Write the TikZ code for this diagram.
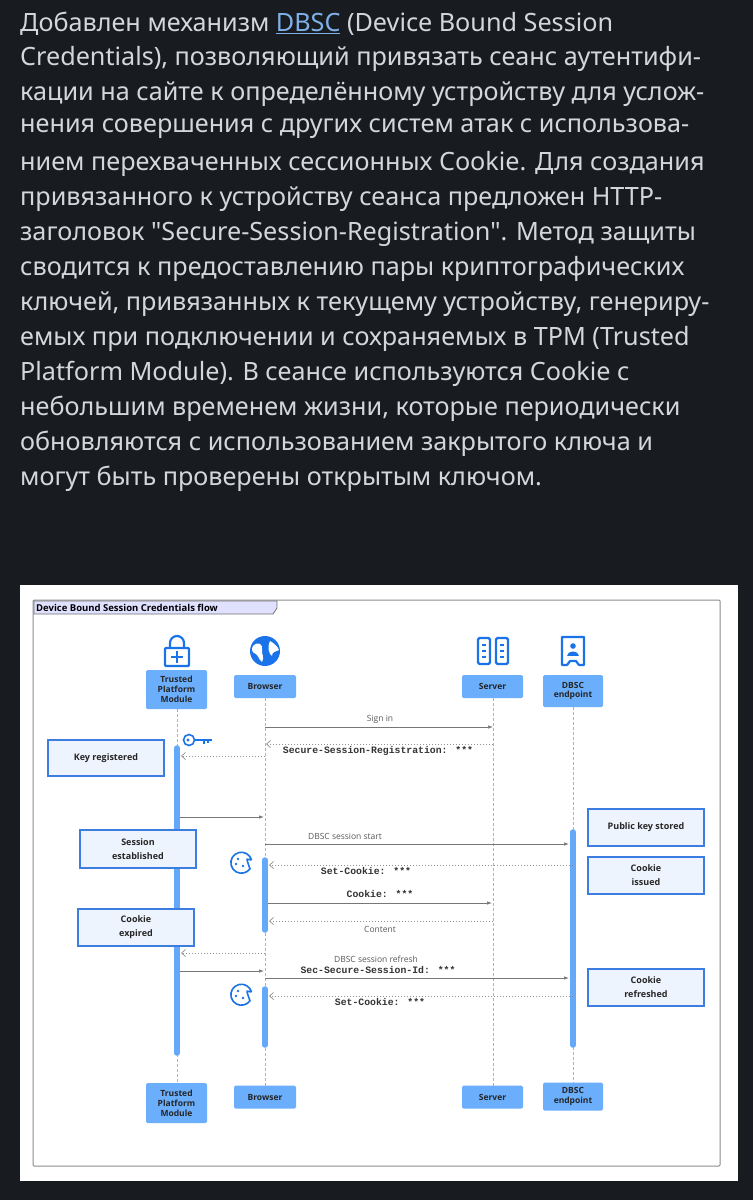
\documentclass[tikz,border=0pt]{standalone}
\usepackage{fontspec}
\setmainfont{Noto Sans}[Ligatures=TeXOff]
\newfontfamily\diag{Open Sans}
\newfontfamily\monof{Liberation Mono}
\usetikzlibrary{arrows.meta}
\definecolor{bgdark}{HTML}{181C20}
\definecolor{txtl}{HTML}{D3D7DB}
\definecolor{linkc}{HTML}{7FB0E8}
\definecolor{hdr}{HTML}{6AAEFC}
\definecolor{icon}{HTML}{1A73E8}
\definecolor{notef}{HTML}{EEF4FD}
\definecolor{noteb}{HTML}{3B7DE0}
\definecolor{msg}{HTML}{777777}
\definecolor{bar}{HTML}{64A8FA}
\tikzset{
  para/.style={anchor=west,text=txtl,font=\fontsize{25.2}{28}\selectfont,inner sep=0pt},
  hbox/.style={fill=hdr,rounded corners=1.5pt,font=\diag\bfseries\fontsize{8.5}{9.8}\selectfont,align=center,inner sep=0pt,text=black!85},
  note/.style={draw=noteb,fill=notef,line width=1.2pt,font=\diag\bfseries\fontsize{9}{14}\selectfont,align=center,text=black!85},
  lab/.style={font=\diag\fontsize{8.5}{9}\selectfont,text=black!65,inner sep=0pt},
  mlab/.style={font=\monof\bfseries\fontsize{9.8}{10}\selectfont,text=black!80,inner sep=0pt},
  sol/.style={draw=msg,line width=0.7pt,-{Latex[length=5pt,width=3.5pt]}},
  ret/.style={draw=msg!80,line width=0.7pt,dash pattern=on 1.5pt off 1.5pt,-{Straight Barb[length=4pt,width=7pt]}},
  life/.style={draw=black!30,line width=0.6pt,dash pattern=on 3pt off 2pt},
  actb/.style={draw=bar,line width=5.5pt,line cap=round},
  ic/.style={draw=icon,line width=2.2pt}
}
\begin{document}
\begin{tikzpicture}[x=1pt,y=-1pt]
\fill[bgdark] (0,0) rectangle (753,1200);
\useasboundingbox (0,0) rectangle (753,1200);
% text
\node[para] (l1) at (20,24) {Добавлен механизм \textcolor{linkc}{\underline{DBSC}} (Device Bound Session};
\node[para] (l2) at (20,59) {Credentials), позволяющий привязать сеанс аутентифи-};
\node[para] (l3) at (20,94) {кации на сайте к определённому устройству для услож-};
\node[para] (l4) at (20,129) {нения совершения с других систем атак с использова-};
\node[para] (l5) at (20,164) {нием перехваченных сессионных Cookie. Для создания};
\node[para] (l6) at (20,199) {привязанного к устройству сеанса предложен HTTP-};
\node[para] (l7) at (20,234) {заголовок "Secure-Session-Registration". Метод защиты};
\node[para] (l8) at (20,269) {сводится к предоставлению пары криптографических};
\node[para] (l9) at (20,304) {ключей, привязанных к текущему устройству, генериру-};
\node[para] (l10) at (20,339) {емых при подключении и сохраняемых в TPM (Trusted};
\node[para] (l11) at (20,374) {Platform Module). В сеансе используются Cookie с};
\node[para] (l12) at (20,409) {небольшим временем жизни, которые периодически};
\node[para] (l13) at (20,444) {обновляются с использованием закрытого ключа и};
\node[para] (l14) at (20,479) {могут быть проверены открытым ключом.};
% panel
\fill[white] (20,585) rectangle (738,1181);
\draw[black!45,line width=1pt,rounded corners=1pt] (33,600) rectangle (720,1166);
\draw[black!55,fill=blue!12,line width=0.8pt] (34,601) -- (277,601) -- (277,608) -- (273,614) -- (34,614) -- cycle;
\node[anchor=west,inner sep=0pt,font=\diag\bfseries\fontsize{9.5}{10}\selectfont] (title) at (36,607.5) {Device Bound Session Credentials flow};
% lifelines
\draw[life] (177,709) -- (177,1083);
\draw[life] (265,698) -- (265,1086);
\draw[life] (493,698) -- (493,1086);
\draw[life] (573,707) -- (573,1083);
% activation bars
\draw[actb] (177,748) -- (177,1053);
\draw[actb] (265,860) -- (265,930);
\draw[actb] (265,989) -- (265,1045);
\draw[actb] (573,832) -- (573,1045);
% header boxes
\node[hbox,minimum width=61pt,minimum height=39pt] (tpm) at (176.5,689.5) {Trusted\\Platform\\Module};
\node[hbox,minimum width=62pt,minimum height=23pt] (br) at (265,686.5) {Browser};
\node[hbox,minimum width=61pt,minimum height=23pt] (sv) at (492.5,686.5) {Server};
\node[hbox,minimum width=60pt,minimum height=32pt] (db) at (573,691) {DBSC\\endpoint};
\node[hbox,minimum width=61pt,minimum height=40pt] (tpm2) at (176.5,1103) {Trusted\\Platform\\Module};
\node[hbox,minimum width=62pt,minimum height=23pt] (br2) at (265,1097) {Browser};
\node[hbox,minimum width=61pt,minimum height=23pt] (sv2) at (492.5,1097) {Server};
\node[hbox,minimum width=60pt,minimum height=28pt] (db2) at (573,1096.5) {DBSC\\endpoint};
% icons: lock
\draw[ic,rounded corners=1pt] (165,648) rectangle (189,666);
\draw[ic] (170,648) -- (170,643) arc (180:360:7) -- (184,648);
\draw[ic,line width=1.8pt] (177,651) -- (177,663) (171,657) -- (183,657);
% globe
\fill[icon] (265,651) circle (15);
\fill[white] (253,646) .. controls (258,641) and (263,644) .. (262,649) .. controls (261,654) and (265,657) .. (262,662) .. controls (259,660) and (258,655) .. (256,654) .. controls (252,653) and (251,649) .. (253,646) -- cycle;
\fill[white] (270,641) .. controls (274,643) and (278,647) .. (279,650) .. controls (276,652) and (272,651) .. (272,656) .. controls (269,654) and (267,648) .. (270,641) -- cycle;
% server
\draw[ic,rounded corners=1.5pt] (478,638) rectangle (490,664);
\draw[ic,rounded corners=1.5pt] (496,638) rectangle (508,664);
\foreach \yy in {645,651,657}{\draw[icon,line width=1.6pt] (482,\yy) -- (486,\yy) (500,\yy) -- (504,\yy);}
% badge
\draw[ic,line join=round] (562,637) -- (584,637) -- (584,665) -- (579,665) -- (576,661) -- (570,661) -- (567,665) -- (562,665) -- cycle;
\fill[icon] (573,646) circle (2.8);
\fill[icon] (567,656) .. controls (567,650) and (579,650) .. (579,656) -- cycle;
% key
\draw[icon,line width=1.6pt] (189,740) circle (5.5);
\fill[icon] (188,740) circle (1.6);
\draw[icon,line width=1.6pt] (194.5,740) -- (212,740) (204,740) -- (204,744) (208,740) -- (208,743);
% cookies
\foreach \cy in {862,994}{
 \draw[icon,line width=1.6pt] (251.5,\cy-2) arc (-15:-325:10.5) .. controls (245,\cy-7) and (247,\cy-2) .. (251.5,\cy-2);
 \fill[icon] (238,\cy-3) circle (1.4) (236,\cy+2) circle (1.4) (243,\cy+4) circle (1.4);
}
% notes
\node[note,minimum width=116pt,minimum height=36pt] (n1) at (106,758) {Key registered};
\node[note,minimum width=116pt,minimum height=38pt] (n2) at (138,849) {Session\\established};
\node[note,minimum width=116pt,minimum height=37pt] (n3) at (136,927.5) {Cookie\\expired};
\node[note,minimum width=116pt,minimum height=37pt] (n4) at (646,827.5) {Public key stored};
\node[note,minimum width=116pt,minimum height=37pt] (n5) at (646,875.5) {Cookie\\issued};
\node[note,minimum width=116pt,minimum height=37pt] (n6) at (646,987.5) {Cookie\\refreshed};
% messages
\draw[sol] (265,727) -- (493,727);
\node[lab] (m1) at (380,719) {Sign in};
\draw[ret] (493,744) -- (266,744);
\node[mlab] (m2) at (378,751) {Secure-Session-Registration: ***};
\draw[ret] (265,756) -- (181,756);
\draw[sol] (180,817) -- (264,817);
\draw[sol] (265,844) -- (569,844);
\node[lab] (m3) at (345,836) {DBSC session start};
\draw[ret] (573,865) -- (269,865);
\node[mlab] (m4) at (366,871) {Set-Cookie: ***};
\draw[sol] (268,903) -- (492,903);
\node[mlab] (m5) at (380,894) {Cookie: ***};
\draw[ret] (493,921) -- (269,921);
\node[lab] (m6) at (380,929) {Content};
\draw[ret] (265,953) -- (181,953);
\node[lab] (m7) at (376,959) {DBSC session refresh};
\node[mlab] (m8) at (378,970) {Sec-Secure-Session-Id: ***};
\draw[sol] (180,971) -- (264,971);
\draw[sol] (265,978) -- (569,978);
\draw[ret] (573,996) -- (269,996);
\node[mlab] (m9) at (380,1002) {Set-Cookie: ***};
\end{tikzpicture}
\end{document}
